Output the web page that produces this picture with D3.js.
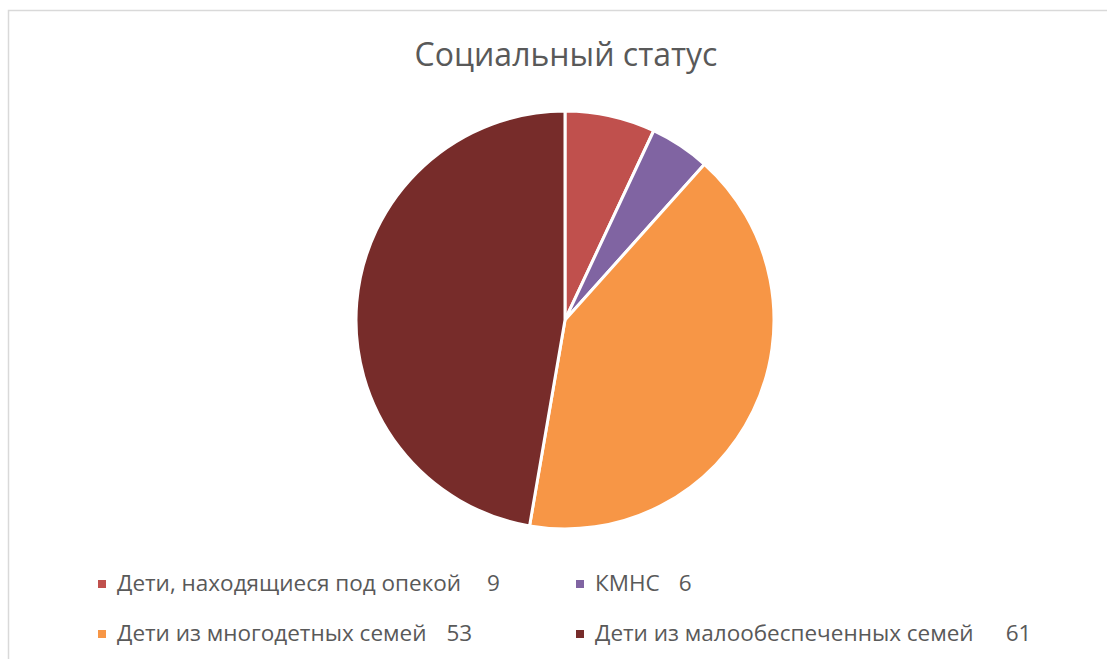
<!DOCTYPE html>
<html>
<head>
<meta charset="utf-8">
<script src="https://cdn.jsdelivr.net/npm/d3@7/dist/d3.min.js"></script>
<style>
  html, body { margin: 0; padding: 0; background: #fff; }
  svg { display: block; }
</style>
</head>
<body>
<svg id="chart"></svg>
<script>
// Social status breakdown
const categories = [
  'Дети, находящиеся под опекой',
  'КМНС',
  'Дети из многодетных семей',
  'Дети из малообеспеченных семей'
];
const values = [9, 6, 53, 61];
const colors = ['#c0504d', '#8064a2', '#f79646', '#772c2a'];
const title = 'Социальный статус';

const W = 1107, H = 659;
const FONT = '"Open Sans", "Liberation Sans", sans-serif';
const TEXT = '#595959';

const svg = d3.select('#chart').attr('width', W).attr('height', H);

// Chart area frame
svg.append('rect')
  .attr('x', 8.5).attr('y', 10.5)
  .attr('width', W + 10).attr('height', H + 10)
  .attr('fill', '#fff')
  .attr('stroke', '#d9d9d9')
  .attr('stroke-width', 1.5);

// Title
svg.append('text')
  .attr('x', 566).attr('y', 66)
  .attr('text-anchor', 'middle')
  .attr('font-family', FONT)
  .attr('font-size', '32px')
  .attr('fill', TEXT)
  .text(title);

// Pie
const cx = 565, cy = 320, R = 209;
const pie = d3.pie().sort(null).value(d => d)(values);
const arc = d3.arc().innerRadius(0).outerRadius(R);

svg.append('g')
  .attr('transform', `translate(${cx},${cy})`)
  .selectAll('path')
  .data(pie).join('path')
    .attr('d', arc)
    .attr('fill', (d, i) => colors[i])
    .attr('stroke', '#fff')
    .attr('stroke-width', 3)
    .attr('stroke-linejoin', 'round');

// Legend (2 columns x 2 rows)
const colX = [98, 576];
const rowY = [591, 641];
const gaps = [26, 19, 20, 32];

const items = svg.append('g').selectAll('g')
  .data(categories).join('g')
    .attr('transform', (d, i) => `translate(${colX[i % 2]},${rowY[Math.floor(i / 2)]})`);

items.append('rect')
  .attr('x', 0).attr('y', -11)
  .attr('width', 8).attr('height', 8)
  .attr('fill', (d, i) => colors[i]);

const labels = items.append('text')
  .attr('x', 19)
  .attr('font-family', FONT)
  .attr('font-size', '22.5px')
  .attr('fill', TEXT)
  .text(d => d);

items.append('text')
  .attr('x', function (d, i) {
    return 19 + labels.nodes()[i].getComputedTextLength() + gaps[i];
  })
  .attr('font-family', FONT)
  .attr('font-size', '22.5px')
  .attr('fill', TEXT)
  .text((d, i) => values[i]);
</script>
</body>
</html>
